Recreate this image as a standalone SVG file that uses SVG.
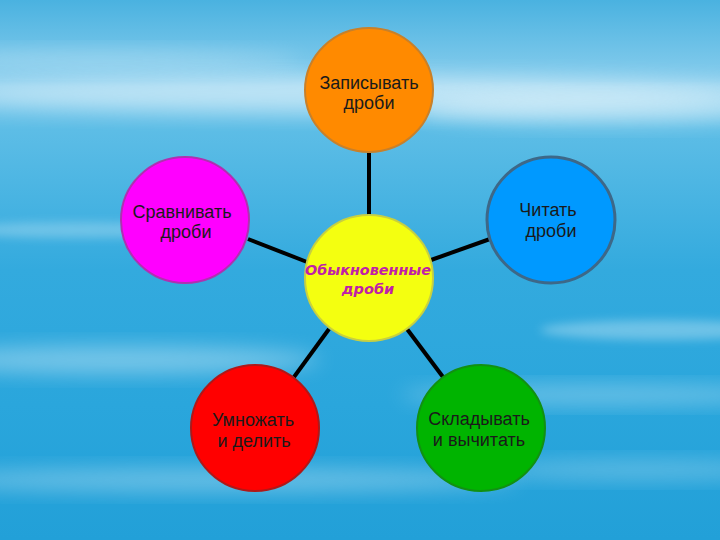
<svg xmlns="http://www.w3.org/2000/svg" width="720" height="540" viewBox="0 0 720 540">
<style>
.lbl{font-family:"Liberation Sans",Arial,sans-serif;font-size:18px;fill:#1a1a1a;text-anchor:middle}
.ctr{font-family:"DejaVu Sans",Verdana,sans-serif;font-size:14.5px;font-weight:bold;font-style:italic;fill:#c020a8;text-anchor:middle}
.edge{stroke:#000;stroke-width:4;stroke-linecap:butt}
</style>
<defs>
<linearGradient id="sky" x1="0" y1="0" x2="0" y2="1">
<stop offset="0" stop-color="#4ab2e0"/>
<stop offset="0.16" stop-color="#8ccfee"/>
<stop offset="0.24" stop-color="#5dbde6"/>
<stop offset="0.5" stop-color="#33aade"/>
<stop offset="0.75" stop-color="#2aa6dc"/>
<stop offset="1" stop-color="#22a0d8"/>
</linearGradient>
<filter id="blur" x="-20%" y="-50%" width="140%" height="200%"><feGaussianBlur stdDeviation="10"/></filter>
<filter id="blur2" x="-20%" y="-50%" width="140%" height="200%"><feGaussianBlur stdDeviation="5"/></filter>
</defs>
<rect width="720" height="540" fill="url(#sky)"/>
<g id="clouds" fill="#ffffff">
<ellipse cx="360" cy="95" rx="420" ry="18" opacity="0.45" filter="url(#blur)"/>
<ellipse cx="600" cy="110" rx="180" ry="14" opacity="0.4" filter="url(#blur)"/>
<ellipse cx="100" cy="60" rx="200" ry="10" opacity="0.25" filter="url(#blur)"/>
<ellipse cx="80" cy="230" rx="120" ry="8" opacity="0.25" filter="url(#blur2)"/>
<ellipse cx="660" cy="330" rx="120" ry="10" opacity="0.3" filter="url(#blur2)"/>
<ellipse cx="120" cy="360" rx="200" ry="14" opacity="0.35" filter="url(#blur)"/>
<ellipse cx="600" cy="395" rx="200" ry="10" opacity="0.3" filter="url(#blur)"/>
<ellipse cx="220" cy="480" rx="300" ry="12" opacity="0.3" filter="url(#blur)"/>
<ellipse cx="640" cy="470" rx="160" ry="10" opacity="0.25" filter="url(#blur)"/>
</g>
<g id="connectors">
<line class="edge" x1="369" y1="153" x2="369" y2="216"/>
<line class="edge" x1="248" y1="239" x2="307" y2="262"/>
<line class="edge" x1="431" y1="260" x2="490" y2="239"/>
<line class="edge" x1="329" y1="329" x2="294" y2="377"/>
<line class="edge" x1="407" y1="329" x2="443" y2="377"/>
</g>
<g id="n-top">
<ellipse cx="369" cy="90" rx="64" ry="62" fill="#ff8a00" stroke="#c8802a" stroke-width="2"/>
<text class="lbl" x="369" y="89">Записывать</text>
<text class="lbl" x="369" y="109">дроби</text>
</g>
<g id="n-left">
<ellipse cx="185" cy="220" rx="64" ry="63" fill="#ff00ff" stroke="#b030b0" stroke-width="2"/>
<text class="lbl" x="182" y="218">Сравнивать</text>
<text class="lbl" x="186" y="238">дроби</text>
</g>
<g id="n-right">
<ellipse cx="551" cy="220" rx="64" ry="63" fill="#0099ff" stroke="#3d6888" stroke-width="3"/>
<text class="lbl" x="548" y="216">Читать</text>
<text class="lbl" x="551" y="237">дроби</text>
</g>
<g id="n-center">
<ellipse cx="369" cy="278" rx="64" ry="63" fill="#f4ff10" stroke="#c8d040" stroke-width="2"/>
<text class="ctr" x="368" y="275" textLength="126" lengthAdjust="spacingAndGlyphs">Обыкновенные</text>
<text class="ctr" x="368" y="294">дроби</text>
</g>
<g id="n-botleft">
<ellipse cx="255" cy="428" rx="64" ry="63" fill="#ff0000" stroke="#b01818" stroke-width="2"/>
<text class="lbl" x="253" y="426">Умножать</text>
<text class="lbl" x="254" y="447">и делить</text>
</g>
<g id="n-botright">
<ellipse cx="481" cy="428" rx="64" ry="63" fill="#00b400" stroke="#129012" stroke-width="2"/>
<text class="lbl" x="479" y="425">Складывать</text>
<text class="lbl" x="479" y="446">и вычитать</text>
</g>
</svg>
